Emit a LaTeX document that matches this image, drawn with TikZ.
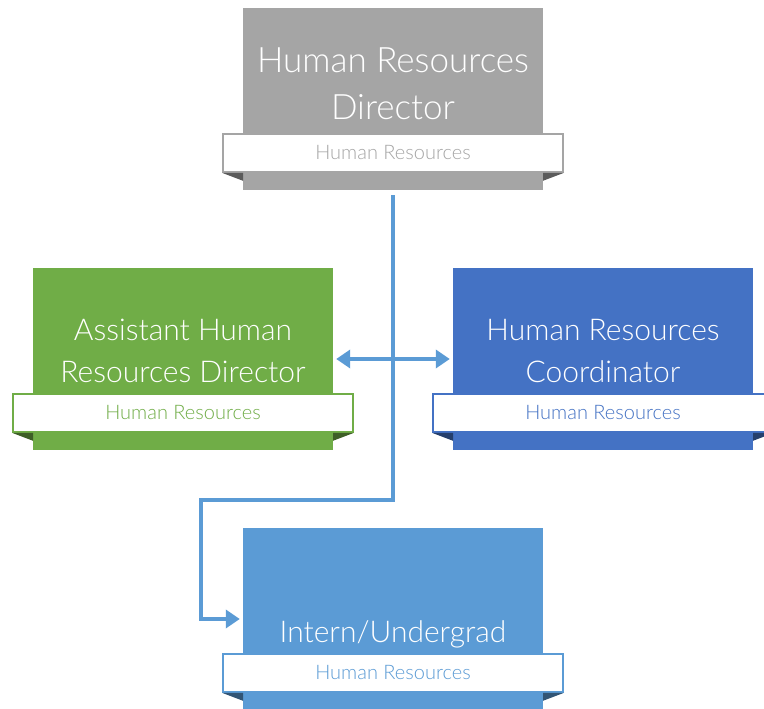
\documentclass[tikz,border=0pt]{standalone}
\usepackage{fontspec}
\setmainfont{Lato}[UprightFont=* Light]
\usetikzlibrary{positioning,arrows.meta}

\definecolor{hrgray}{HTML}{A5A5A5}
\definecolor{hrgreen}{HTML}{70AD47}
\definecolor{hrblue}{HTML}{4472C4}
\definecolor{hrlight}{HTML}{5B9BD5}

\tikzset{
  card/.style={fill=#1, minimum width=300pt, minimum height=182pt, inner sep=0pt},
  ribbon/.style={draw=#1, fill=white, line width=2pt, minimum width=340pt,
    minimum height=38pt, inner sep=0pt, text=#1, font=\fontsize{20}{20}\selectfont,
    anchor=north, yshift=-125pt},
  fold/.style={fill=#1!55!black},
  bigtitle/.style={text=white, align=center, font=\fontsize{35}{47}\selectfont, inner sep=0pt},
  title/.style={text=white, align=center, font=\fontsize{30}{42}\selectfont, inner sep=0pt},
  conn/.style={draw=hrlight, line width=3.5pt, -{Triangle[length=14pt,width=18pt]}},
}

\begin{document}
\begin{tikzpicture}[x=1pt,y=-1pt]
  \useasboundingbox (0,0) rectangle (764,709);

  % cards
  \node[card=hrgray]  (hrd)    at (393,99)  {};
  \node[card=hrgreen] (ahrd)   at (183,359) {};
  \node[card=hrblue]  (hrc)    at (603,359) {};
  \node[card=hrlight] (intern) at (393,619) {};

  % ribbons with department
  \node[ribbon=hrgray]  (hrd-r)    at (hrd.north)    {Human Resources};
  \node[ribbon=hrgreen] (ahrd-r)   at (ahrd.north)   {Human Resources};
  \node[ribbon=hrblue]  (hrc-r)    at (hrc.north)    {Human Resources};
  \node[ribbon=hrlight] (intern-r) at (intern.north) {Human Resources};

  % folds under the ribbon ends
  \foreach \r/\c in {hrd-r/hrgray, ahrd-r/hrgreen, hrc-r/hrblue, intern-r/hrlight}{
    \fill[fold=\c] (\r.south west) -- ++(21,0) -- ++(0,8) -- cycle;
    \fill[fold=\c] (\r.south east) -- ++(-21,0) -- ++(0,8) -- cycle;
  }

  % titles
  \node[bigtitle, above=13pt of hrd-r] {Human Resources\\Director};
  \node[title, above=10pt of ahrd-r] {Assistant Human\\Resources Director};
  \node[title, above=10pt of hrc-r] {Human Resources\\Coordinator};
  \node[title, above=5pt of intern-r] {Intern/Undergrad};

  % connectors
  \coordinate (turn) at (201,500);
  \draw[conn, shorten <=5pt, shorten >=3pt] (hrd.south) |- (turn) |- (intern.west);
  \draw[conn, {Triangle[length=14pt,width=18pt]}-{Triangle[length=14pt,width=18pt]},
    shorten <=3pt, shorten >=3pt] (ahrd.east) -- (hrc.west);
\end{tikzpicture}
\end{document}
